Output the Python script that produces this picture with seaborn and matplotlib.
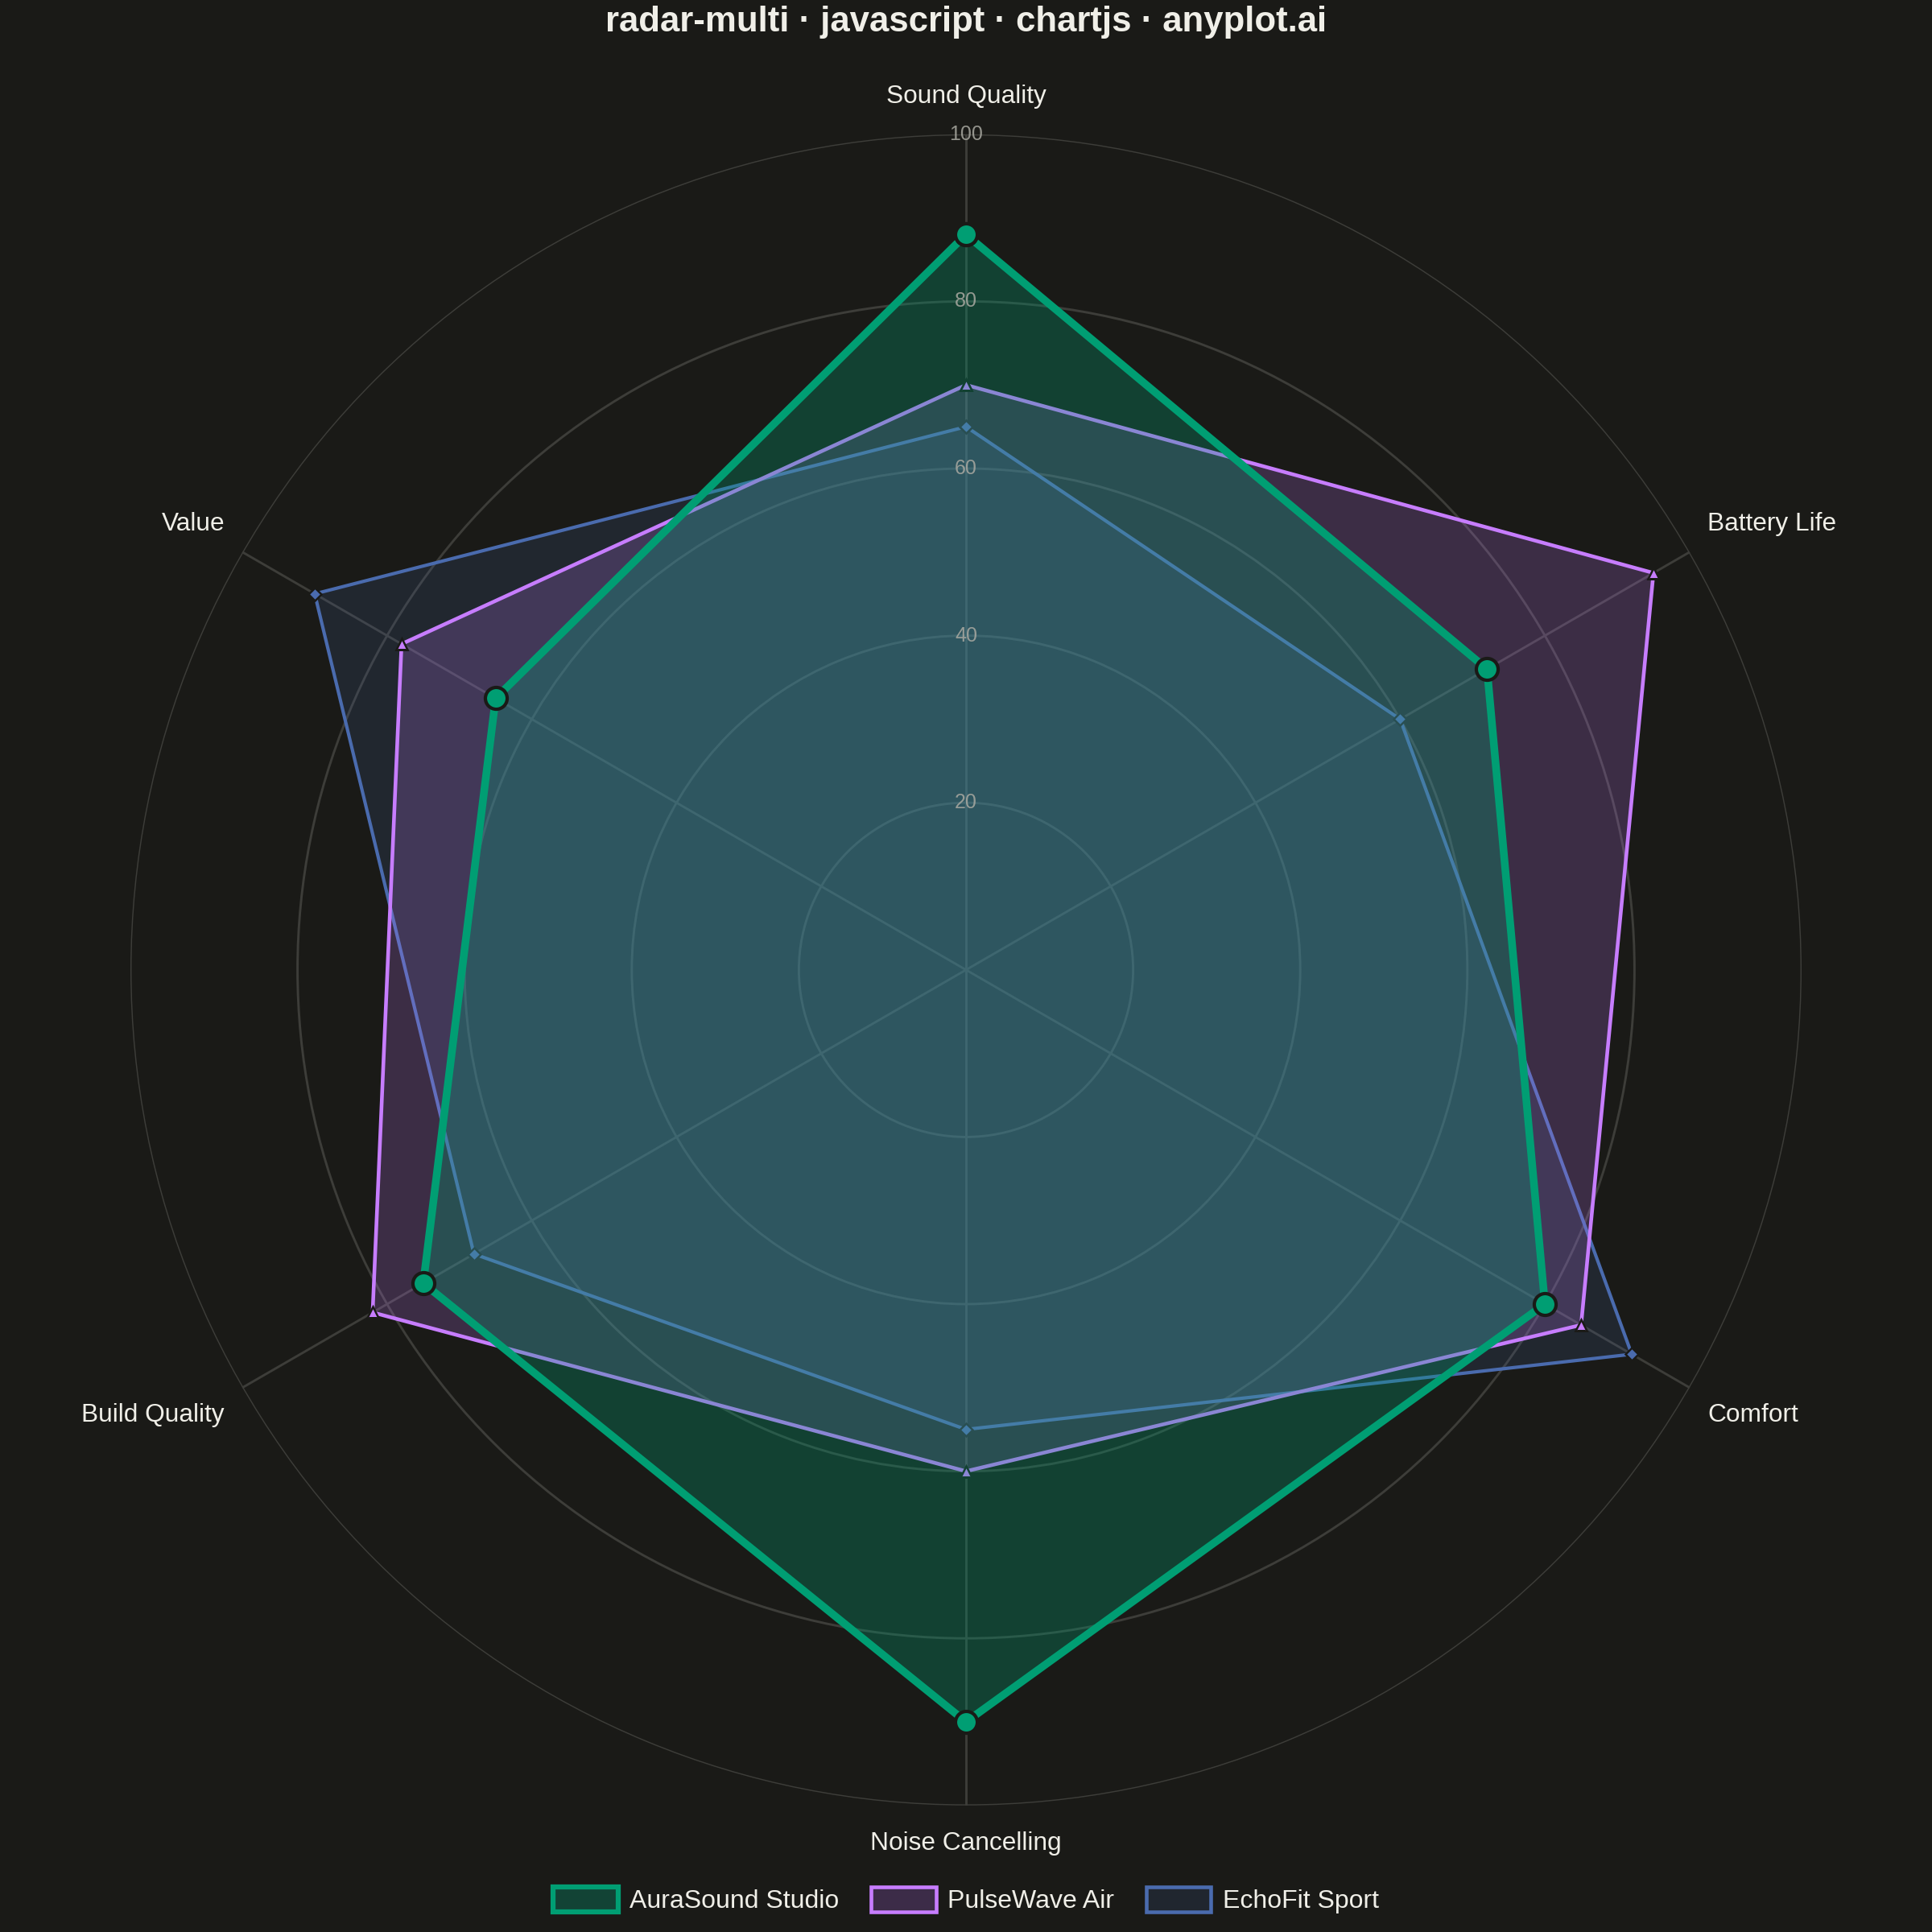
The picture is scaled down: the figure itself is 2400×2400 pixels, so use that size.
import numpy as np
import matplotlib
matplotlib.use("Agg")
import matplotlib.pyplot as plt
import matplotlib.patches as mpatches
import seaborn as sns

categories = ["Sound Quality", "Battery Life", "Comfort", "Noise Cancelling", "Build Quality", "Value"]
series_names = ["AuraSound Studio", "PulseWave Air", "EchoFit Sport"]
aura = [88, 72, 80, 90, 75, 65]
pulse = [70, 95, 85, 60, 82, 78]
echo = [65, 60, 92, 55, 68, 90]
ticks = [20, 40, 60, 80, 100]

BG = "#1A1A17"
FG = "#F0EFE8"
GRID = "#3D3D39"
colors = ["#009E73", "#C77DFF", "#4A6BAE"]
fill_alpha = [0.30, 0.20, 0.16]
line_w = [2.3, 1.1, 1.0]
markers = ["o", "^", "D"]
marker_sz = [6.5, 3.2, 2.8]

sns.set_theme(style="dark")
plt.rcParams["font.family"] = ["Liberation Sans", "DejaVu Sans"]

fig = plt.figure(figsize=(8, 8), dpi=300, facecolor=BG)
ax = fig.add_axes([0.0675, 0.0655, 0.865, 0.865], projection="polar")
ax.set_facecolor(BG)
ax.set_theta_zero_location("N")
ax.set_theta_direction(-1)

n = len(categories)
theta = np.linspace(0, 2 * np.pi, n, endpoint=False)
theta_closed = np.append(theta, theta[0] + 2 * np.pi)

data = [aura, pulse, echo]
# last dataset drawn first, each fill followed by its own line (chart.js order)
for i in reversed(range(len(data))):
    vals = np.append(data[i], data[i][0])
    z = 2 + 2 * (len(data) - 1 - i)
    ax.fill(theta_closed, vals, color=colors[i], alpha=fill_alpha[i], lw=0, zorder=z)
    sns.lineplot(x=theta_closed, y=vals, ax=ax, sort=False, color=colors[i],
                 lw=line_w[i], marker=markers[i], markersize=marker_sz[i],
                 markeredgecolor=BG, markeredgewidth=1.0 if i == 0 else 0.6,
                 zorder=z + 1)

ax.set_ylim(0, 100)
ax.set_yticks(ticks)
ax.set_yticklabels([])
ax.set_xticks(theta)
ax.set_xticklabels([])
ax.set_xlabel("")
ax.set_ylabel("")
ax.grid(True, color=GRID, lw=0.7)
ax.set_axisbelow(True)
ax.spines["polar"].set_visible(False)
ax.tick_params(length=0, pad=0)

for t in ticks:
    ax.text(0, t, str(t), ha="center", va="center", fontsize=6,
            color="#A9A9A1", alpha=0.85, zorder=20)

for th, lab in zip(theta, categories):
    s = np.sin(th)
    if abs(s) < 0.01:
        ax.text(th, 104.5, lab, ha="center", va="center", fontsize=7.6, color=FG)
    else:
        # nudge side labels a little towards the vertical
        nudge = np.deg2rad(1.0) * (1 if np.cos(th) < 0 else -1) * np.sign(s)
        ax.text(th + nudge, 103.5, lab, ha="left" if s > 0 else "right", va="center",
                fontsize=7.6, color=FG)

fig.text(0.5, 0.9885, "radar-multi · javascript · chartjs · anyplot.ai", ha="center",
         va="center", fontsize=10.5, fontweight="bold", color=FG)

fill_cols = ["#124335", "#3C2C48", "#20262F"]
edge_w = [1.5, 1.1, 1.1]
handles = [mpatches.Patch(facecolor=fill_cols[i], edgecolor=colors[i], lw=edge_w[i],
                          label=series_names[i]) for i in range(3)]
leg = fig.legend(handles=handles, loc="center", bbox_to_anchor=(0.5, 0.0165), ncol=3,
                 frameon=False, fontsize=7.7, handlelength=2.5, handleheight=1.1,
                 handletextpad=0.45, columnspacing=1.25)
for txt in leg.get_texts():
    txt.set_color(FG)

fig.savefig("out.png", dpi=300, facecolor=BG)
